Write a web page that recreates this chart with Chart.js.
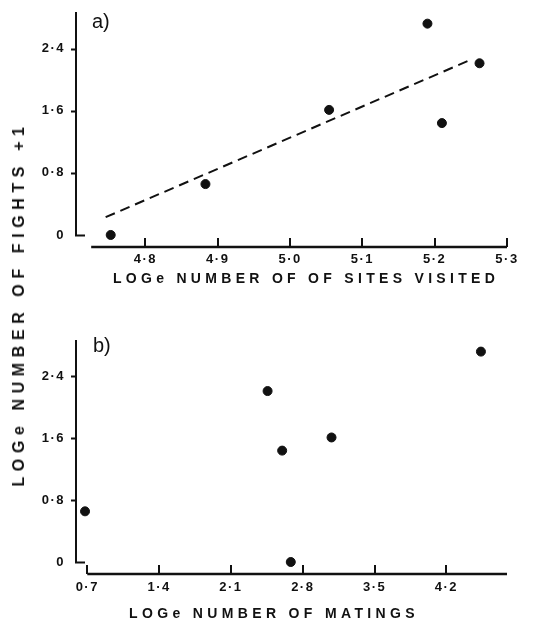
<!DOCTYPE html>
<html>
<head>
<meta charset="utf-8">
<script src="https://cdn.jsdelivr.net/npm/chart.js@4.4.1/dist/chart.umd.min.js"></script>
<style>
  body { margin: 0; background: #fff; }
  #wrap { position: relative; width: 534px; height: 624px; overflow: hidden; font-family: "Liberation Sans", Arial, sans-serif; color: #111; }
  canvas { position: absolute; left: 0; }
  .lbl { position: absolute; white-space: nowrap; line-height: 1; }
  .panel { font-size: 20px; }
  .xtitle { font-size: 14px; font-weight: bold; transform: translateX(-50%); }
  .ytitle { font-size: 16px; font-weight: bold; letter-spacing: 5.6px; transform: translate(-50%, -50%) rotate(-90deg); }
</style>
</head>
<body>
<div id="wrap">
  <canvas id="chartA" width="534" height="300" style="top:0"></canvas>
  <canvas id="chartB" width="534" height="314" style="top:310px"></canvas>
  <div class="lbl panel" style="left:92px; top:11px">a)</div>
  <div class="lbl panel" style="left:93px; top:335px">b)</div>
  <div class="lbl xtitle" style="left:306px; top:271px; letter-spacing:4.3px">LOGe NUMBER OF OF SITES VISITED</div>
  <div class="lbl xtitle" style="left:274px; top:606px; letter-spacing:4.35px">LOGe NUMBER OF MATINGS</div>
  <div class="lbl ytitle" style="left:19px; top:304px">LOGe NUMBER OF FIGHTS +1</div>
</div>
<script>
// same six males in both panels
const fights = [0.0, 0.655, 1.61, 2.72, 1.44, 2.21];
const sitesVisited = [4.752, 4.883, 5.054, 5.190, 5.210, 5.262];
const matings = [2.683, 0.678, 3.080, 4.536, 2.599, 2.457];

// regression line in panel a, end points
const fitX = [4.745, 5.251];
const fitY = [0.229, 2.26];

const yTicks = [0, 0.8, 1.6, 2.4];
const sitesTicks = [4.8, 4.9, 5.0, 5.1, 5.2, 5.3];
const matingTicks = [0.7, 1.4, 2.1, 2.8, 3.5, 4.2];

const ink = "#111";
const tickFont = { family: "Liberation Sans", size: 13, weight: "bold" };

function fmt(v) {
  return v === 0 ? "0" : v.toFixed(1).replace(".", "\u00b7");
}

// old typewriter-ish spacing on the tick numbers
const spacing = {
  id: "spacing",
  beforeDraw(chart) { chart.ctx.letterSpacing = "1.5px"; }
};

// axes drawn by hand: y line stops at 0, x line is offset below it, x ticks point inward
const axesFrame = {
  id: "axesFrame",
  afterDraw(chart, args, opts) {
    const { ctx, chartArea, scales } = chart;
    const x = scales.x, y = scales.y;
    const left = chartArea.left, bottom = chartArea.bottom;
    const y0 = y.getPixelForValue(0);
    ctx.save();
    ctx.strokeStyle = ink;
    ctx.lineCap = "butt";
    ctx.lineWidth = 2;
    ctx.beginPath();
    ctx.moveTo(left, chartArea.top);
    ctx.lineTo(left, y0 + 1);
    yTicks.forEach(v => {
      const py = Math.round(y.getPixelForValue(v)) + 0.5;
      if (v === 0) {
        ctx.moveTo(left - 1, py);
        ctx.lineTo(left + 9, py);
      } else {
        ctx.moveTo(left - 5, py);
        ctx.lineTo(left, py);
      }
    });
    ctx.stroke();

    ctx.lineWidth = 2.5;
    ctx.beginPath();
    ctx.moveTo(x.getPixelForValue(opts.xFrom), bottom);
    ctx.lineTo(chartArea.right, bottom);
    ctx.stroke();

    ctx.lineWidth = 2;
    ctx.beginPath();
    opts.ticks.forEach(v => {
      const px = Math.round(x.getPixelForValue(v));
      ctx.moveTo(px, bottom);
      ctx.lineTo(px, bottom - 9);
    });
    ctx.stroke();
    ctx.restore();
  }
};

function makePanel(id, xs, xMin, xMax, xFrom, xTicks, extra, top, xHeight, xPad) {
  const datasets = [{
    data: xs.map((v, i) => ({ x: v, y: fights[i] })),
    backgroundColor: ink,
    borderColor: ink,
    pointRadius: 4.5,
    pointHoverRadius: 4.5
  }];
  if (extra) datasets.push(extra);
  return new Chart(document.getElementById(id), {
    type: "scatter",
    data: { datasets },
    options: {
      responsive: false,
      animation: false,
      events: [],
      layout: { padding: { top: top, right: 27, left: 0, bottom: 0 } },
      plugins: {
        legend: { display: false },
        tooltip: { enabled: false },
        axesFrame: { xFrom: xFrom, ticks: xTicks }
      },
      scales: {
        x: {
          type: "linear",
          min: xMin,
          max: xMax,
          grid: { display: false, drawTicks: false },
          border: { display: false },
          afterBuildTicks: s => { s.ticks = xTicks.map(v => ({ value: v })); },
          afterFit: s => { s.height = xHeight; s.paddingLeft = 0; s.paddingRight = 0; },
          ticks: { color: ink, font: tickFont, padding: xPad, maxRotation: 0, autoSkip: false, callback: fmt }
        },
        y: {
          type: "linear",
          min: -0.155,
          max: 2.87,
          grid: { display: false, drawTicks: false },
          border: { display: false },
          afterBuildTicks: s => { s.ticks = yTicks.map(v => ({ value: v })); },
          afterFit: s => { s.width = 76; s.paddingTop = 0; s.paddingBottom = 0; },
          ticks: { color: ink, font: tickFont, padding: 11, callback: fmt }
        }
      }
    },
    plugins: [spacing, axesFrame]
  });
}

makePanel("chartA", sitesVisited, 4.704, 5.3, 4.725, sitesTicks, {
  type: "line",
  data: fitX.map((v, i) => ({ x: v, y: fitY[i] })),
  borderColor: ink,
  borderWidth: 2,
  borderDash: [10, 6],
  pointRadius: 0,
  showLine: true,
  fill: false
}, 12, 53, 5);

makePanel("chartB", matings, 0.59, 4.79, 0.7, matingTicks, null, 30, 50, 6);
</script>
</body>
</html>
